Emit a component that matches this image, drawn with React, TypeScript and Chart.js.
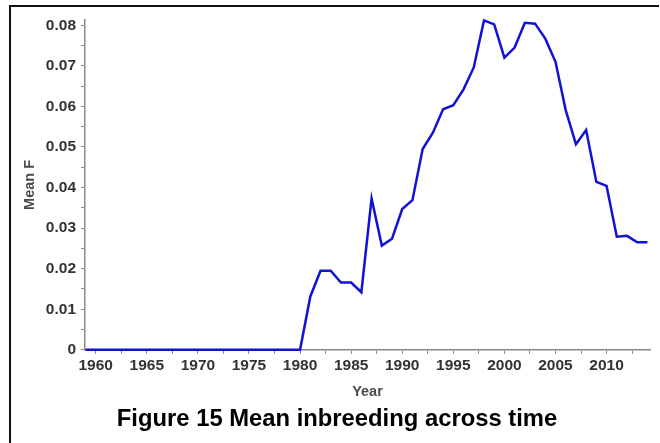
import React, { useEffect, useRef } from "react";
import { Chart, registerables } from "chart.js";

Chart.register(...registerables);

const years: number[] = [
  1959, 1960, 1961, 1962, 1963, 1964, 1965, 1966, 1967, 1968, 1969, 1970,
  1971, 1972, 1973, 1974, 1975, 1976, 1977, 1978, 1979, 1980, 1981, 1982,
  1983, 1984, 1985, 1986, 1987, 1988, 1989, 1990, 1991, 1992, 1993, 1994,
  1995, 1996, 1997, 1998, 1999, 2000, 2001, 2002, 2003, 2004, 2005, 2006,
  2007, 2008, 2009, 2010, 2011, 2012, 2013, 2014,
];

const meanF: number[] = [
  0, 0, 0, 0, 0, 0, 0, 0, 0, 0, 0, 0,
  0, 0, 0, 0, 0, 0, 0, 0, 0, 0, 0.0131, 0.0195,
  0.0195, 0.0166, 0.0166, 0.0142, 0.0373, 0.0257, 0.0274, 0.0347, 0.0369, 0.0495, 0.0535, 0.0593,
  0.0603, 0.0642, 0.0696, 0.0812, 0.0802, 0.072, 0.0745, 0.0806, 0.0804, 0.0767, 0.071, 0.0591,
  0.0507, 0.0542, 0.0414, 0.0404, 0.0279, 0.0281, 0.0265, 0.0265,
];

const xAxisTitle = "Year";
const yAxisTitle = "Mean F";
const chartTitle = "Figure 15 Mean inbreeding across time";

const FONT = "'Liberation Sans', Arial, sans-serif";

export default function App() {
  const ref = useRef<HTMLCanvasElement | null>(null);

  useEffect(() => {
    if (!ref.current) return;
    const chart = new Chart(ref.current, {
      type: "line",
      data: {
        datasets: [
          {
            data: years.map((y, i) => ({ x: y, y: meanF[i] })),
            borderColor: "#1212d6",
            borderWidth: 2.5,
            pointRadius: 0,
            tension: 0,
            fill: false,
            clip: false as any,
          },
        ],
      },
      options: {
        responsive: false,
        animation: false,
        layout: { padding: { top: 20, right: 10, bottom: 9, left: 24 } },
        plugins: {
          legend: { display: false },
          tooltip: { enabled: false },
          title: {
            display: true,
            position: "bottom",
            text: chartTitle,
            color: "#000",
            font: { family: FONT, size: 23.8, weight: "bold", lineHeight: 1.2 },
            padding: { top: 0, bottom: 0 },
          },
        },
        scales: {
          x: {
            type: "linear",
            min: 1958.95,
            max: 2014.25,
            afterFit: (s: any) => {
              s.height = 55.6;
            },
            ticks: {
              stepSize: 2.5,
              includeBounds: false,
              autoSkip: false,
              maxRotation: 0,
              padding: 3,
              color: "#333",
              font: { family: FONT, size: 15.5, weight: "bold" },
              callback: (v: any) => (Number(v) % 5 === 0 ? String(v) : ""),
            },
            grid: {
              drawOnChartArea: false,
              drawTicks: true,
              tickLength: 4,
              color: "#8a8a8a",
              lineWidth: 1,
            },
            border: { display: true, color: "#8a8a8a", width: 1.5 },
            title: {
              display: true,
              text: xAxisTitle,
              color: "#4a4a4a",
              font: { family: FONT, size: 14.5, weight: "bold", lineHeight: 1.2 },
              padding: { top: 0, bottom: 5 },
            },
          },
          y: {
            type: "linear",
            min: 0,
            max: 0.0813,
            afterFit: (s: any) => {
              s.width = 61;
            },
            ticks: {
              stepSize: 0.005,
              includeBounds: false,
              autoSkip: false,
              padding: 5,
              color: "#333",
              font: { family: FONT, size: 15.5, weight: "bold" },
              callback: (v: any) => {
                const n = Number(v) * 100;
                if (Math.abs(n - Math.round(n)) > 1e-6) return "";
                const r = Math.round(n);
                return r === 0 ? "0" : (r / 100).toFixed(2);
              },
            },
            grid: {
              drawOnChartArea: false,
              drawTicks: true,
              tickLength: 4,
              color: "#8a8a8a",
              lineWidth: 1,
            },
            border: { display: true, color: "#8a8a8a", width: 1.5 },
            title: {
              display: true,
              text: yAxisTitle,
              color: "#4a4a4a",
              font: { family: FONT, size: 14.5, weight: "bold", lineHeight: 1.2 },
              padding: { top: -3, bottom: 0 },
            },
          },
        },
      },
    });
    return () => chart.destroy();
  }, []);

  return (
    <div
      style={{
        position: "absolute",
        left: 0,
        top: 0,
        width: 660,
        height: 443,
        overflow: "hidden",
        background: "#fff",
      }}
    >
      <div
        style={{
          position: "absolute",
          left: 9,
          top: 5,
          width: 650,
          height: 520,
          borderTop: "2px solid #111",
          borderLeft: "2px solid #111",
          boxSizing: "border-box",
        }}
      />
      <canvas
        ref={ref}
        width={660}
        height={443}
        style={{ position: "absolute", left: 0, top: 0 }}
      />
    </div>
  );
}
